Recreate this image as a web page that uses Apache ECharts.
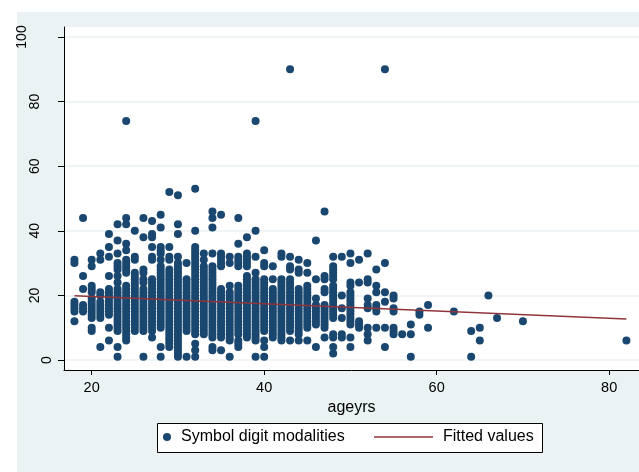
<!DOCTYPE html>
<html>
<head>
<meta charset="utf-8">
<script src="https://cdn.jsdelivr.net/npm/echarts@6/dist/echarts.min.js"></script>
<style>
  html, body { margin: 0; padding: 0; background: #ffffff; }
  #wrap { position: relative; width: 639px; height: 472px; overflow: hidden; }
  #panel { position: absolute; left: 17px; top: 12px; right: 0; bottom: 0; background: #eaf2f3; }
  #chart { position: absolute; left: 0; top: 0; width: 639px; height: 472px; }
</style>
</head>
<body>
<div id="wrap">
  <div id="panel"></div>
  <div id="chart"></div>
</div>
<script>
// Age (years) of each column of observations
const ages = [18, 19, 20, 21, 22, 23, 24, 25, 26, 27, 28, 29, 30, 31, 32, 33, 34, 35, 36, 37,
  38, 39, 40, 41, 42, 43, 44, 45, 46, 47, 48, 49, 50, 51, 52, 53, 54, 55, 56, 57,
  58, 59, 62, 64, 65, 66, 67, 70, 82];

// Symbol digit modalities scores observed at each age above (same order)
const scoresByAge = [
  [31, 30, 18, 17, 16, 15, 12],
  [44, 26, 22, 17, 16, 15],
  [31, 29, 23, 22, 21, 19, 18, 17, 16, 15, 14, 13, 10, 9],
  [33, 31, 21, 20, 18, 17, 16, 15, 14, 13, 4],
  [39, 35, 32, 26, 22, 21, 20, 19, 18, 17, 16, 15, 14, 10, 6],
  [42, 37, 33, 30, 29, 28, 26, 24, 22, 21, 20, 19, 18, 17, 16, 15, 14, 13, 12, 11, 10, 9, 4, 1],
  [74, 44, 42, 36, 34, 31, 30, 29, 28, 27, 23, 22, 21, 20, 19, 18, 17, 16, 15, 14, 13, 12, 11, 10, 9, 8, 7, 6],
  [40, 32, 31, 27, 26, 25, 24, 23, 22, 21, 20, 19, 18, 17, 16, 15, 14, 13, 12, 11, 10, 9],
  [44, 38, 28, 27, 25, 24, 22, 21, 20, 19, 18, 17, 16, 15, 14, 13, 12, 11, 10, 9, 1],
  [43, 39, 38, 35, 32, 31, 25, 24, 23, 22, 21, 20, 19, 18, 17, 16, 15, 14, 13, 12, 11, 10, 9, 7],
  [45, 41, 35, 34, 33, 31, 29, 28, 27, 26, 25, 24, 23, 22, 21, 20, 19, 18, 17, 16, 15, 14, 13, 12, 11, 10, 4, 1],
  [52, 35, 32, 31, 28, 27, 26, 25, 24, 23, 22, 21, 20, 19, 18, 17, 16, 15, 14, 13, 12, 11, 10, 9, 8, 7, 6, 5, 4],
  [51, 42, 39, 32, 30, 29, 28, 27, 26, 25, 24, 23, 22, 21, 20, 19, 18, 17, 16, 15, 14, 13, 12, 11, 10, 9, 8, 7, 6, 5, 4, 3, 2, 1],
  [30, 25, 24, 23, 22, 21, 20, 19, 18, 17, 16, 15, 14, 13, 12, 11, 10, 9, 1],
  [53, 40, 35, 34, 33, 32, 31, 30, 29, 28, 27, 26, 25, 24, 23, 22, 21, 20, 19, 18, 17, 16, 15, 14, 13, 12, 11, 10, 9, 8, 5, 3, 1],
  [33, 31, 29, 28, 27, 26, 25, 24, 23, 22, 21, 20, 19, 18, 17, 16, 15, 14, 13, 12, 11, 10, 9, 8],
  [46, 44, 41, 33, 29, 28, 27, 26, 25, 24, 23, 22, 21, 20, 19, 18, 17, 16, 15, 14, 13, 12, 11, 10, 9, 8, 7, 4, 3],
  [45, 33, 32, 31, 30, 29, 22, 21, 20, 19, 18, 17, 16, 15, 14, 13, 12, 11, 10, 9, 8, 7, 3],
  [32, 30, 23, 21, 20, 19, 18, 17, 16, 15, 14, 13, 12, 11, 10, 9, 8, 7, 6, 1],
  [44, 36, 32, 31, 30, 29, 23, 22, 21, 20, 19, 18, 17, 16, 15, 14, 13, 12, 11, 10, 9, 8, 6, 5, 4],
  [38, 33, 32, 31, 30, 29, 26, 25, 24, 23, 22, 21, 20, 19, 18, 17, 16, 15, 14, 13, 12, 11, 10, 9, 8, 7],
  [74, 40, 32, 27, 25, 24, 23, 22, 21, 20, 19, 18, 17, 16, 15, 14, 13, 12, 11, 10, 9, 8, 7, 6, 1],
  [34, 30, 29, 25, 24, 23, 22, 21, 20, 19, 18, 17, 16, 15, 14, 13, 12, 11, 10, 9, 6, 4, 1],
  [29, 25, 22, 21, 20, 19, 18, 17, 16, 15, 14, 13, 12, 11, 10, 9, 8, 7],
  [33, 32, 25, 24, 23, 22, 21, 20, 19, 18, 17, 16, 15, 14, 13, 12, 11, 10, 9, 8, 7, 6],
  [90, 32, 29, 28, 25, 24, 23, 22, 21, 20, 19, 18, 17, 16, 15, 14, 13, 12, 11, 10, 9, 6],
  [31, 28, 27, 22, 21, 20, 19, 18, 17, 16, 15, 14, 13, 12, 11, 10, 9, 8, 6],
  [30, 27, 23, 22, 21, 20, 19, 18, 17, 16, 15, 14, 13, 12, 11, 10, 6],
  [37, 25, 19, 17, 16, 15, 14, 13, 12, 11, 4],
  [46, 26, 25, 22, 21, 17, 16, 15, 14, 13, 12, 11, 10, 7],
  [32, 29, 28, 27, 26, 25, 23, 22, 21, 20, 19, 18, 17, 16, 15, 14, 13, 8, 7, 4, 2],
  [32, 20, 16, 13, 8, 7],
  [33, 30, 24, 23, 21, 20, 19, 18, 17, 16, 15, 14, 13, 12, 11, 7, 4],
  [31, 24, 12, 11, 10],
  [33, 25, 24, 19, 17, 16, 10, 8, 6],
  [28, 23, 21, 17, 16, 15, 10],
  [90, 30, 21, 18, 10, 4],
  [20, 19, 16, 15, 10, 9, 8],
  [8],
  [11, 8, 1],
  [15, 14],
  [17, 10],
  [15],
  [9, 1],
  [10, 6],
  [20],
  [13],
  [12],
  [6]
];

// Linear fit of score on age, evaluated at the ends of the age range
const fitAges = [18, 82];
const fitScores = [19.9, 12.7];

// Axis tick values
const xTicks = [20, 40, 60, 80];
const yTicksMid = [20, 40, 60, 80];
const yTicksLow = [0];
const yTicksTop = [100];
const yGrid = [0, 20, 40, 60, 80, 100];

const NAVY = '#1a476f';
const MAROON = '#90353b';
const PANEL = '#eaf2f3';
const FONT = '"Liberation Sans", Arial, sans-serif';

const points = [];
ages.forEach((a, i) => {
  scoresByAge[i].forEach(s => points.push([a, s]));
});
const fitLine = fitAges.map((a, i) => [a, fitScores[i]]);

const chart = echarts.init(document.getElementById('chart'), null, { renderer: 'canvas' });

const Y_MIN = -3.1, Y_MAX = 103.1;

// Stata-style rotated labels: longer labels sit further from the axis,
// so each label group gets its own (line-less) axis with its own margin.
function labelAxis(ticks, margin, withLine) {
  return {
    type: 'value', min: Y_MIN, max: Y_MAX, position: 'left',
    axisLine: { show: withLine, onZero: false, lineStyle: { color: '#000', width: 1 } },
    axisTick: { show: withLine, length: 6, customValues: yGrid, lineStyle: { color: '#000', width: 1 } },
    axisLabel: {
      customValues: ticks, rotate: 90, margin: margin,
      fontSize: 14, fontFamily: FONT, color: '#000'
    },
    splitLine: withLine
      ? { show: true, lineStyle: { color: PANEL, width: 1.5 } }
      : { show: false }
  };
}

chart.setOption({
  animation: false,
  grid: {
    left: 64, right: 0, top: 27, bottom: 102,
    show: true, backgroundColor: '#ffffff', borderWidth: 0
  },
  xAxis: {
    type: 'value', min: 16.79, max: 83.46,
    name: 'ageyrs', nameLocation: 'middle', nameGap: 26,
    nameTextStyle: { fontSize: 16, fontFamily: FONT, color: '#000' },
    axisLine: { onZero: false, lineStyle: { color: '#000', width: 1 } },
    axisTick: { length: 5, customValues: xTicks, lineStyle: { color: '#000' } },
    axisLabel: { customValues: xTicks, margin: 10, fontSize: 14.5, fontFamily: FONT, color: '#000' },
    splitLine: { show: false }
  },
  yAxis: [
    labelAxis(yTicksMid, 22, true),
    labelAxis(yTicksLow, 10, false),
    labelAxis(yTicksTop, 35, false)
  ],
  legend: [
    {
      data: ['Symbol digit modalities'],
      left: 163, top: 429, padding: 0, z: 10,
      itemWidth: 8, itemHeight: 8,
      textStyle: { fontSize: 16, fontFamily: FONT, color: '#000', padding: [0, 0, 0, 5] }
    },
    {
      data: [{ name: 'Fitted values', icon: 'rect' }],
      left: 374, top: 429, padding: 0, z: 10,
      itemWidth: 59, itemHeight: 1.6,
      itemStyle: { color: MAROON, borderWidth: 0 },
      textStyle: { fontSize: 16, fontFamily: FONT, color: '#000', padding: [0, 0, 0, 5] }
    }
  ],
  graphic: [{
    type: 'rect', z: 1,
    shape: { x: 157.5, y: 423.5, width: 385, height: 29 },
    style: { fill: '#ffffff', stroke: '#000', lineWidth: 1 }
  }],
  series: [
    {
      name: 'Symbol digit modalities', type: 'scatter',
      data: points, symbol: 'circle', symbolSize: 8,
      itemStyle: { color: NAVY, opacity: 1 },
      clip: false, z: 2
    },
    {
      name: 'Fitted values', type: 'line',
      data: fitLine, symbol: 'none', showSymbol: false,
      lineStyle: { color: MAROON, width: 1.6 },
      itemStyle: { color: MAROON },
      z: 3
    }
  ]
});
</script>
</body>
</html>
